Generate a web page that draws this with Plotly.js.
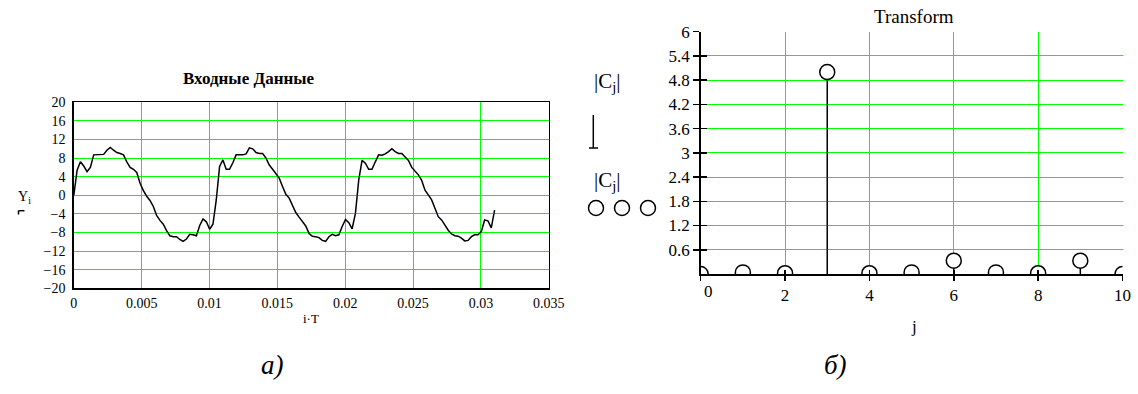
<!DOCTYPE html>
<html>
<head>
<meta charset="utf-8">
<script src="https://cdn.plot.ly/plotly-3.0.1.min.js"></script>
<style>html,body{margin:0;padding:0;background:#fff;}#chart{width:1138px;height:394px;}</style>
</head>
<body>
<div id="chart"></div>
<script>
// ---------- data ----------
const leftTitle = 'Входные Данные';
const rightTitle = 'Transform';
const samplePeriod = 1 / 4096;            // T
const Y = [
  0, 5.4, 7.2, 6.3, 5.1, 6.0, 8.7, 8.7, 8.7, 8.8,
  9.7, 10.3, 9.7, 9.2, 9.0, 8.7, 7.2, 6.0, 5.6, 4.9,
  2.6, 1.0, -0.2, -1.1, -2.4, -4.3, -5.4, -6.2, -7.6, -8.7,
  -8.9, -8.9, -9.5, -9.9, -9.4, -8.4, -8.5, -8.7, -6.5, -5.1,
  -5.7, -7.3, -6.2, -1.0, 6.2, 7.6, 5.6, 5.6, 7.0, 8.7,
  8.7, 8.7, 8.9, 10.2, 10.0, 9.2, 9.0, 9.0, 8.0, 6.5,
  5.6, 4.7, 3.7, 1.9, 0.2, -0.6, -2.1, -3.7, -4.7, -5.7,
  -6.6, -8.2, -8.8, -8.9, -9.1, -9.7, -9.9, -8.9, -8.4, -8.7,
  -8.5, -6.7, -5.2, -5.9, -7.2, -3.9, 3.3, 7.5, 6.9, 5.6,
  5.6, 7.2, 8.7, 8.6, 8.9, 9.4, 10.0, 9.4, 9.0, 9.0,
  8.3, 7.5, 6.0, 5.3, 4.4, 3.2, 1.1, 0.1, -1.0, -2.8,
  -4.6, -5.3, -6.4, -7.5, -8.3, -8.7, -8.8, -9.2, -9.8, -9.7,
  -8.9, -8.5, -8.5, -7.8, -5.3, -5.5, -7.0, -3.2
];
const xTicksLeft = [0, 0.005, 0.01, 0.015, 0.02, 0.025, 0.03, 0.035];
const xLabelsLeft = ['0', '0.005', '0.01', '0.015', '0.02', '0.025', '0.03', '0.035'];
const yTicksLeft = [-20, -16, -12, -8, -4, 0, 4, 8, 12, 16, 20];
const yLabelsLeft = ['\u221220', '\u221216', '\u221212', '\u22128', '\u22124', '0', '4', '8', '12', '16', '20'];

const J = [0, 1, 2, 3, 4, 5, 6, 7, 8, 9, 10];
const C = [0.0, 0.04, 0.02, 5.0, 0.02, 0.04, 0.33, 0.04, 0.02, 0.33, 0.0];
const xTicksRight = [0, 2, 4, 6, 8, 10];
const xLabelsRight = ['', '2', '4', '6', '8', '10'];
const yTicksRight = [0.6, 1.2, 1.8, 2.4, 3, 3.6, 4.2, 4.8, 5.4, 6];
const yLabelsRight = ['0.6', '1.2', '1.8', '2.4', '3', '3.6', '4.2', '4.8', '5.4', '6'];

// ---------- helpers ----------
const W = 1138, H = 394;
const px = v => v / W;
const py = v => 1 - v / H;
const SERIF = '"Liberation Serif", "Times New Roman", serif';
const GRID = '#00ff00';

const time = Y.map((_, i) => i * samplePeriod);

const traces = [
  { x: time, y: Y, xaxis: 'x', yaxis: 'y', type: 'scatter', mode: 'lines',
    line: { color: '#000', width: 1.5 }, hoverinfo: 'skip' },
  { x: J, y: C, xaxis: 'x2', yaxis: 'y2', type: 'scatter', mode: 'markers',
    marker: { symbol: 'circle', size: 15, color: '#fff', line: { color: '#000', width: 1.5 } },
    error_y: { type: 'data', symmetric: false, array: C.map(() => 0), arrayminus: C,
               width: 0, color: '#000', thickness: 1.5 },
    hoverinfo: 'skip' },
  { x: [null], y: [null], xaxis: 'x3', yaxis: 'y2', type: 'scatter', mode: 'markers', hoverinfo: 'skip' },
  { x: [null], y: [null], xaxis: 'x2', yaxis: 'y3', type: 'scatter', mode: 'markers', hoverinfo: 'skip' }
];

const ann = (text, x, y, size, extra) => Object.assign({
  text, x: px(x), y: py(y), xref: 'paper', yref: 'paper', showarrow: false,
  xanchor: 'center', yanchor: 'middle', font: { family: SERIF, size, color: '#000' }
}, extra || {});

const layout = {
  width: W, height: H,
  margin: { l: 0, r: 0, t: 0, b: 0 },
  paper_bgcolor: '#fff', plot_bgcolor: '#fff',
  showlegend: false,
  font: { family: SERIF, color: '#000' },
  xaxis: {
    domain: [px(73.8), px(548.8)], anchor: 'y', range: [0, 0.035],
    tickmode: 'array', tickvals: xTicksLeft, ticktext: xLabelsLeft,
    showgrid: true, gridcolor: GRID, gridwidth: 1, zeroline: false,
    showline: true, linecolor: '#000', linewidth: 1.5, mirror: true, ticks: '',
    ticklabelstandoff: 1,
    tickfont: { family: SERIF, size: 14, color: '#000' }
  },
  yaxis: {
    domain: [py(288.3), py(102.3)], anchor: 'x', range: [-20, 20],
    tickmode: 'array', tickvals: yTicksLeft, ticktext: yLabelsLeft,
    showgrid: true, gridcolor: GRID, gridwidth: 1, zeroline: false,
    showline: true, linecolor: '#000', linewidth: 1.5, mirror: true, ticks: '',
    ticklabelstandoff: 4,
    tickfont: { family: SERIF, size: 14, color: '#000' }
  },
  xaxis2: {
    domain: [px(700.7), px(1122.5)], anchor: 'y2', range: [0, 10],
    tickmode: 'array', tickvals: xTicksRight, ticktext: xLabelsRight,
    showgrid: true, gridcolor: GRID, gridwidth: 1, zeroline: false,
    showline: true, linecolor: '#000', linewidth: 1.5,
    ticks: 'outside', ticklen: 5, tickwidth: 1.5, tickcolor: '#000',
    tickfont: { family: SERIF, size: 17, color: '#000' }
  },
  yaxis2: {
    domain: [py(274), py(31.7)], anchor: 'x2', range: [0, 6],
    tickmode: 'array', tickvals: yTicksRight, ticktext: yLabelsRight,
    showgrid: true, gridcolor: GRID, gridwidth: 1, zeroline: false,
    showline: true, linecolor: '#000', linewidth: 1.5,
    ticks: 'outside', ticklen: 6, tickwidth: 1.5, tickcolor: '#000',
    tickfont: { family: SERIF, size: 17, color: '#000' }
  },
  xaxis3: {
    overlaying: 'x2', anchor: 'y2', range: [0, 10],
    tickmode: 'array', tickvals: xTicksRight, ticks: 'inside', ticklen: 4, tickwidth: 1.5,
    tickcolor: '#000', showticklabels: false, showgrid: false, zeroline: false, showline: false
  },
  yaxis3: {
    overlaying: 'y2', anchor: 'x2', range: [0, 6],
    tickmode: 'array', tickvals: yTicksRight, ticks: 'inside', ticklen: 6, tickwidth: 1.5,
    tickcolor: '#000', showticklabels: false, showgrid: false, zeroline: false, showline: false
  },
  annotations: [
    ann('<b>' + leftTitle + '</b>', 248, 78, 17),
    ann(rightTitle, 914, 16, 19),
    ann('Y<sub>i</sub>', 24, 197, 14),
    ann('i\u00b7T', 311, 318, 13),
    ann('j', 914, 326, 17),
    ann('|C<sub>j</sub>|', 607, 82, 21),
    ann('|C<sub>j</sub>|', 607, 181, 21),
    ann('<i>а)</i>', 272, 365, 27),
    ann('<i>б)</i>', 835, 365, 27),
    { text: '0', x: 0, y: 0, xref: 'x2', yref: 'y2', xshift: 8, yshift: -17, showarrow: false,
      font: { family: SERIF, size: 17, color: '#000' } }
  ],
  shapes: [
    { type: 'line', xref: 'paper', yref: 'paper', x0: px(593.3), x1: px(593.3), y0: py(115), y1: py(148), line: { color: '#000', width: 1.5 } },
    { type: 'line', xref: 'paper', yref: 'paper', x0: px(589), x1: px(598), y0: py(148), y1: py(148), line: { color: '#000', width: 1.5 } },
    { type: 'line', xref: 'paper', yref: 'paper', x0: px(18.5), x1: px(24.5), y0: py(210.7), y1: py(210.7), line: { color: '#000', width: 1.5 } },
    { type: 'line', xref: 'paper', yref: 'paper', x0: px(18.5), x1: px(18.5), y0: py(210.7), y1: py(214.5), line: { color: '#000', width: 1.5 } },
    { type: 'circle', xref: 'paper', yref: 'paper', x0: px(588.5), x1: px(603.5), y0: py(200.5), y1: py(215.5), line: { color: '#000', width: 1.5 } },
    { type: 'circle', xref: 'paper', yref: 'paper', x0: px(614.5), x1: px(629.5), y0: py(200.5), y1: py(215.5), line: { color: '#000', width: 1.5 } },
    { type: 'circle', xref: 'paper', yref: 'paper', x0: px(640.5), x1: px(655.5), y0: py(200.5), y1: py(215.5), line: { color: '#000', width: 1.5 } }
  ]
};

Plotly.newPlot('chart', traces, layout, { staticPlot: true, displayModeBar: false });
</script>
</body>
</html>
